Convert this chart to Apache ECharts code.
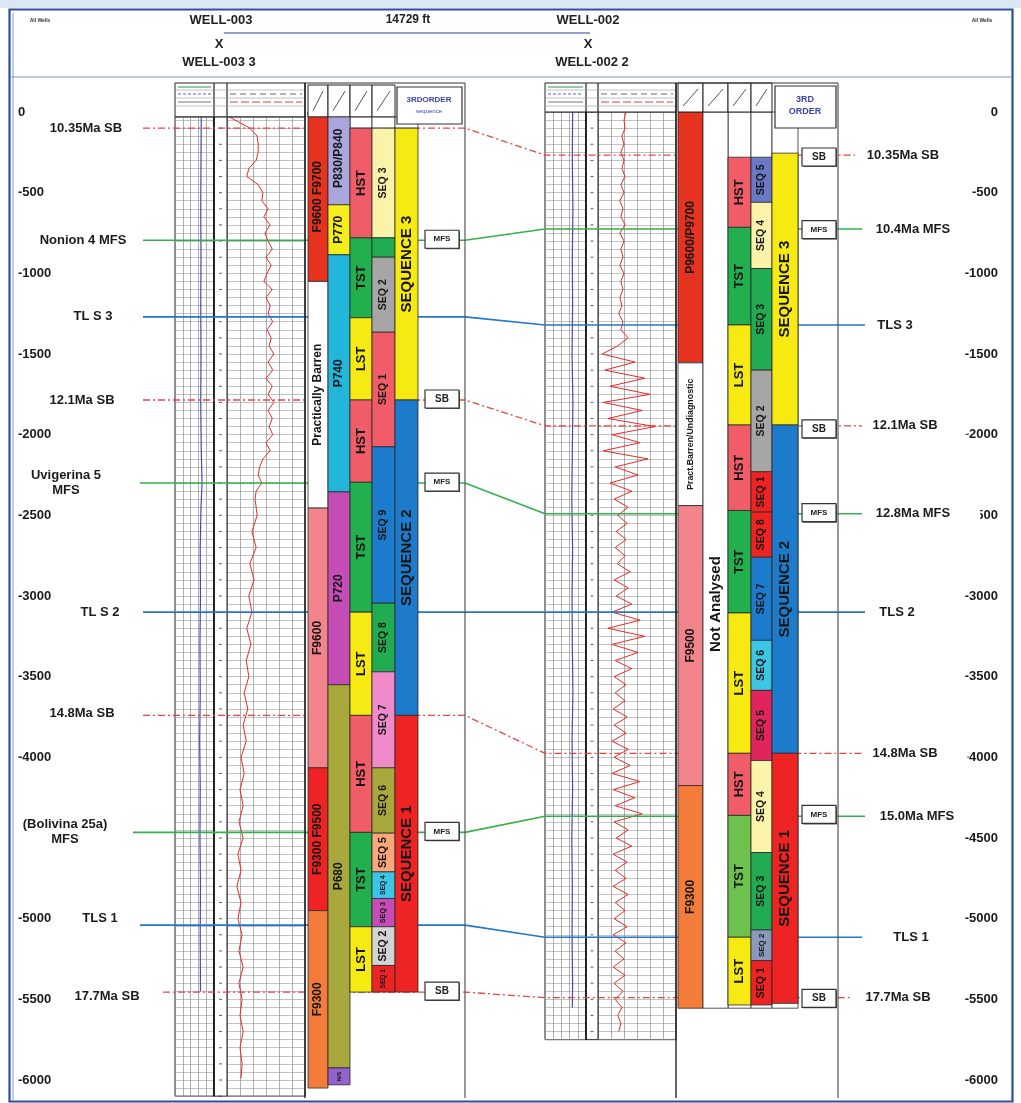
<!DOCTYPE html>
<html><head><meta charset="utf-8">
<script src="https://cdn.jsdelivr.net/npm/echarts@6/dist/echarts.min.js"></script>
<style>html,body{margin:0;padding:0;background:#fff}#c{width:1021px;height:1103px}</style>
</head><body><div id="c"></div>
<script>
// ================= DATA =================
const DEPTH_TICKS = [0,-500,-1000,-1500,-2000,-2500,-3000,-3500,-4000,-4500,-5000,-5500,-6000];

// WELL-003 (left) zonation: [top, base, label, kind]
const L_BIOZONE = [[0,-1050,'F9600 F9700','bioRed'],[-1050,-2455,'Practically Barren','white'],[-2455,-4065,'F9600','pink'],[-4065,-4950,'F9300 F9500','red'],[-4950,-6050,'F9300','orange']];
const L_PALY = [[0,-575,'P830/P840','lavender'],[-575,-885,'P770','yellow'],[-885,-2355,'P740','cyan'],[-2355,-3550,'P720','magenta'],[-3550,-5925,'P680','olive'],[-5925,-6030,'N/S','purple']];
const L_TRACT = [[-100,-780,'HST','hst'],[-780,-1275,'TST','tst'],[-1275,-1785,'LST','lst'],[-1785,-2295,'HST','hst'],[-2295,-3100,'TST','tst'],[-3100,-3740,'LST','lst'],[-3740,-4465,'HST','hst'],[-4465,-5050,'TST','tst'],[-5050,-5455,'LST','lst']];
const L_SEQ = [[-100,-780,'SEQ 3','cream'],[-780,-900,'','green'],[-900,-1365,'SEQ 2','gray'],[-1365,-2075,'SEQ 1','hst'],[-2075,-3045,'SEQ 9','blue'],[-3045,-3470,'SEQ 8','green'],[-3470,-4065,'SEQ 7','pinkLight'],[-4065,-4470,'SEQ 6','olive'],[-4470,-4710,'SEQ 5','peach'],[-4710,-4875,'SEQ 4','cyanLight'],[-4875,-5050,'SEQ 3','magenta'],[-5050,-5290,'SEQ 2','grayLight'],[-5290,-5455,'SEQ 1','red']];
const L_ORDER3 = [[-100,-1785,'SEQUENCE 3','lst'],[-1785,-3740,'SEQUENCE 2','blue'],[-3740,-5455,'SEQUENCE 1','red']];

// WELL-002 (right) zonation
const R_BIOZONE = [[0,-1555,'P9600/P9700','bioRed'],[-1555,-2440,'Pract.Barren/Undiagnostic','white'],[-2440,-4175,'F9500','pink'],[-4175,-5555,'F9300','orange']];
const R_PALY = [[0,-5555,'Not Analysed','white',-3050]];
const R_TRACT = [[-280,-715,'HST','hst'],[-715,-1320,'TST','tst'],[-1320,-1940,'LST','lst'],[-1940,-2470,'HST','hst'],[-2470,-3105,'TST','tst'],[-3105,-3975,'LST','lst'],[-3975,-4360,'HST','hst'],[-4360,-5115,'TST','tstLight'],[-5115,-5535,'LST','lst']];
const R_SEQ = [[-280,-560,'SEQ 5','slate'],[-560,-970,'SEQ 4','cream'],[-970,-1600,'SEQ 3','green'],[-1600,-2230,'SEQ 2','gray'],[-2230,-2480,'SEQ 1','red'],[-2480,-2760,'SEQ 8','red'],[-2760,-3275,'SEQ 7','blue'],[-3275,-3585,'SEQ 6','cyanLight'],[-3585,-4020,'SEQ 5','crimson'],[-4020,-4590,'SEQ 4','cream'],[-4590,-5070,'SEQ 3','green'],[-5070,-5260,'SEQ 2','grayBlue'],[-5260,-5535,'SEQ 1','red']];
const R_ORDER3 = [[-255,-1940,'SEQUENCE 3','lst'],[-1940,-3975,'SEQUENCE 2','blue'],[-3975,-5525,'SEQUENCE 1','red']];

// Correlation surfaces
const SURF_TYPE = ['SB','MFS','TLS','SB','MFS','TLS','SB','MFS','TLS','SB'];
const SURF_NAME_L = ['10.35Ma SB','Nonion 4 MFS','TL S 3','12.1Ma SB','Uvigerina 5\nMFS','TL S 2','14.8Ma SB','(Bolivina 25a)\nMFS','TLS 1','17.7Ma SB'];
const SURF_NAME_R = ['10.35Ma SB','10.4Ma MFS','TLS 3','12.1Ma SB','12.8Ma MFS','TLS 2','14.8Ma SB','15.0Ma MFS','TLS 1','17.7Ma SB'];
const SURF_DEPTH_L = [-100,-795,-1270,-1785,-2300,-3100,-3740,-4465,-5040,-5455];
const SURF_DEPTH_R = [-267,-725,-1320,-1945,-2490,-3100,-3975,-4365,-5115,-5490];

// Surface boxes [label, depth]
const BOX_L = [['MFS',-795],['SB',-1785],['MFS',-2300],['MFS',-4465],['SB',-5455]];
const BOX_R = [['SB',-285],['MFS',-735],['SB',-1970],['MFS',-2490],['MFS',-4360],['SB',-5500]];

// Logs: [depth, value]
const L_GR = [[-30,4],[-60,21],[-100,44],[-150,58],[-200,60],[-250,60],[-300,56],[-350,42],[-400,38],[-450,60],[-500,69],[-550,67],[-600,79],[-650,71],[-700,83],[-750,73],[-800,79],[-850,87],[-900,75],[-950,85],[-1000,77],[-1050,71],[-1100,87],[-1150,75],[-1200,83],[-1250,79],[-1300,88],[-1350,77],[-1400,85],[-1450,81],[-1500,90],[-1550,79],[-1600,88],[-1650,75],[-1700,87],[-1750,79],[-1800,90],[-1850,79],[-1900,87],[-1950,81],[-2000,88],[-2050,75],[-2100,83],[-2150,69],[-2200,63],[-2250,60],[-2300,67],[-2350,56],[-2400,54],[-2500,58],[-2600,48],[-2700,56],[-2800,44],[-2900,52],[-3000,42],[-3100,48],[-3200,38],[-3300,46],[-3400,37],[-3500,42],[-3600,33],[-3700,40],[-3800,31],[-3900,37],[-4000,27],[-4100,33],[-4200,25],[-4300,31],[-4400,23],[-4500,31],[-4600,21],[-4700,27],[-4800,19],[-4900,27],[-5000,21],[-5100,29],[-5200,23],[-5300,31],[-5400,23],[-5500,29],[-5600,25],[-5700,31],[-5800,25],[-5900,29],[-5990,27]];
const R_GR = [[0,54],[-50,50],[-100,52],[-150,46],[-200,50],[-250,44],[-300,50],[-350,46],[-400,52],[-450,44],[-500,50],[-550,42],[-600,48],[-650,44],[-700,52],[-750,42],[-800,50],[-850,44],[-900,48],[-950,42],[-1000,50],[-1050,44],[-1100,48],[-1150,42],[-1200,46],[-1250,40],[-1300,48],[-1350,44],[-1400,58],[-1450,38],[-1500,8],[-1550,71],[-1600,13],[-1650,90],[-1700,23],[-1750,100],[-1800,10],[-1850,85],[-1900,19],[-1950,110],[-2000,27],[-2050,81],[-2100,10],[-2150,96],[-2200,33],[-2250,77],[-2300,23],[-2350,65],[-2400,31],[-2450,58],[-2500,38],[-2550,56],[-2600,35],[-2650,54],[-2700,33],[-2750,52],[-2800,37],[-2850,62],[-2900,31],[-2950,58],[-3000,35],[-3050,65],[-3100,27],[-3150,81],[-3200,19],[-3250,90],[-3300,27],[-3350,77],[-3400,33],[-3450,65],[-3500,31],[-3550,54],[-3600,33],[-3650,52],[-3700,29],[-3750,56],[-3800,31],[-3850,54],[-3900,27],[-3950,58],[-4000,31],[-4050,62],[-4100,27],[-4150,81],[-4200,29],[-4250,71],[-4300,33],[-4350,85],[-4400,31],[-4450,58],[-4500,35],[-4550,65],[-4600,29],[-4650,56],[-4700,33],[-4750,54],[-4800,29],[-4850,58],[-4900,33],[-4950,52],[-5000,31],[-5050,56],[-5100,29],[-5150,54],[-5200,33],[-5250,50],[-5300,29],[-5350,52],[-5400,31],[-5450,48],[-5500,33],[-5550,46],[-5600,38],[-5650,44],[-5700,40]];
const L_CAL = [[-30,101],[-300,100],[-600,99],[-900,100],[-1200,99],[-1500,100],[-1800,99],[-2100,101],[-2300,104],[-2450,100],[-2700,97],[-3000,98],[-3300,96],[-3600,97],[-3900,95],[-4200,97],[-4500,96],[-4800,98],[-5100,97],[-5450,98]];
const R_CAL = [[0,101],[-300,100],[-600,102],[-900,100],[-1200,101],[-1500,99],[-1800,102],[-2100,100],[-2400,98],[-2700,101],[-3000,99],[-3300,100],[-3600,102],[-3900,99],[-4200,101],[-4500,98],[-4800,100],[-5100,99],[-5400,101],[-5550,100]];
const L_LOG_RANGE = [-30,-6100];
const R_LOG_RANGE = [0,-5750];

// ================= LAYOUT / STYLE =================
const W = 1021, H = 1103, Y0 = 112, PX_PER_FT = 968/6000;
const yPx = d => Y0 - d*PX_PER_FT;
const Y_MAX = Y0/PX_PER_FT, Y_MIN = -(H-Y0)/PX_PER_FT;
const FONT = '"Liberation Sans", Arial, sans-serif';
const PALETTE = {bioRed:'#e6331f',white:'#ffffff',pink:'#f2848c',red:'#ee2424',orange:'#f47c3a',lavender:'#aaa6dc',yellow:'#f6ee1c',cyan:'#22b6da',magenta:'#c64cb6',olive:'#a9a83c',purple:'#9462cc',hst:'#f05d68',tst:'#22b04e',tstLight:'#6dc24e',lst:'#f7ea12',cream:'#fbf3aa',green:'#22ac52',gray:'#a6a6a6',blue:'#1c7bca',pinkLight:'#f18acb',peach:'#f8a67a',cyanLight:'#3cc6e6',grayLight:'#d4d4d4',slate:'#6a78c6',crimson:'#e0245e',grayBlue:'#8a9abc'};
const L = {t1:[175,214], dt:[214,227], t2:[227,305], bio:[308,328], paly:[328,350], tract:[350,372], seq:[372,395], ord:[395,418], box:442, right:465, hdrDepth:-30};
const R = {t1:[545,586], dt:[586,598], t2:[598,676], bio:[678,703], paly:[703,728], tract:[728,751], seq:[751,772], ord:[772,798], box:819, right:838, hdrDepth:0};
const COL_FONT = {bio:12, paly:12, tract:13, seq:10.5, ord:15};
const R_PALY_FONT = 15;
const LINE_START_L = [143,143,143,143,140,143,143,133,140,163];
const LINE_END_R = [855,862,865,862,862,865,862,865,862,850];
const LABEL_X_L = [86,83,93,82,66,100,82,65,100,107];
const LABEL_DY_L = [0,0,0,0,0,0,-2,0,-7,4];
const LABEL_X_R = [903,913,895,905,913,897,905,917,911,898];
const SURF_STYLE = {SB:{color:'#e8463c',width:1.3,type:[7,3,2,3]}, MFS:{color:'#36b04a',width:1.6,type:'solid'}, TLS:{color:'#2478c8',width:1.6,type:'solid'}};

// ================= BUILD ITEMS =================
const ITEMS = [];
function addCol(arr, cols, key, fontOverride){
  arr.forEach(r => ITEMS.push({x0:cols[key][0], x1:cols[key][1], top:r[0], base:r[1], label:r[2], kind:r[3], labelDepth:r[4], font: fontOverride || COL_FONT[key]}));
}
['tract','seq','ord'].forEach((k,i)=>{ const first=[L_TRACT,L_SEQ,L_ORDER3][i][0][0]; ITEMS.push({x0:L[k][0],x1:L[k][1],top:L.hdrDepth,base:first,label:'',kind:'white',font:9}); });
const rBottom = R_BIOZONE[R_BIOZONE.length-1][1];
['tract','seq','ord'].forEach(k=> ITEMS.push({x0:R[k][0],x1:R[k][1],top:R.hdrDepth,base:rBottom,label:'',kind:'white',font:9}));
addCol(L_BIOZONE,L,'bio'); addCol(L_PALY,L,'paly'); addCol(L_TRACT,L,'tract'); addCol(L_SEQ,L,'seq'); addCol(L_ORDER3,L,'ord');
addCol(R_BIOZONE,R,'bio'); addCol(R_PALY,R,'paly',R_PALY_FONT); addCol(R_TRACT,R,'tract'); addCol(R_SEQ,R,'seq'); addCol(R_ORDER3,R,'ord');

const LABELS = [];
SURF_NAME_L.forEach((t,i)=>LABELS.push({text:t, x:LABEL_X_L[i], d:SURF_DEPTH_L[i], dy:LABEL_DY_L[i], pad:[1,3,1,8]}));
SURF_NAME_R.forEach((t,i)=>LABELS.push({text:t, x:LABEL_X_R[i], d:SURF_DEPTH_R[i], dy:0, pad:[1,30,1,2]}));
const BOXES = BOX_L.map(b=>({text:b[0], x:L.box, d:b[1]})).concat(BOX_R.map(b=>({text:b[0], x:R.box, d:b[1]})));

function renderInterval(params, api){
  const it = ITEMS[params.dataIndex];
  const p0 = api.coord([it.x0, it.top]);
  const p1 = api.coord([it.x1, it.base]);
  const h = p1[1]-p0[1], w = p1[0]-p0[0];
  const children = [{type:'rect', shape:{x:p0[0], y:p0[1], width:w, height:h}, style:{fill:PALETTE[it.kind], stroke:'#2a2a2a', lineWidth:0.8}}];
  if (it.label){
    const lc = it.labelDepth != null ? api.coord([it.x0, it.labelDepth])[1] : (p0[1]+p1[1])/2;
    const fs = Math.min(it.font, Math.max(5, (h-6)/(it.label.length*0.62)));
    children.push({type:'text', x:(p0[0]+p1[0])/2, y:lc, rotation:Math.PI/2,
      style:{text:it.label, x:0, y:0, align:'center', verticalAlign:'middle', fill:'#151515', fontSize:fs, fontWeight:'bold', fontFamily:FONT}});
  }
  return {type:'group', children};
}
function renderLabel(params, api){
  const it = LABELS[params.dataIndex];
  const p = api.coord([it.x, it.d]);
  return {type:'text', x:p[0] + (it.pad[1]-it.pad[3])/2, y:p[1]+it.dy, style:{text:it.text, align:'center', verticalAlign:'middle', fill:'#1b1b1b', fontSize:13, fontWeight:'bold', fontFamily:FONT, lineHeight:15, backgroundColor:'#fff', padding:it.pad}};
}
function renderBox(params, api){
  const it = BOXES[params.dataIndex];
  const p = api.coord([it.x, it.d]);
  return {type:'group', children:[
    {type:'rect', shape:{x:p[0]-16, y:p[1]-9, width:34, height:18}, style:{fill:'#555'}},
    {type:'rect', shape:{x:p[0]-17, y:p[1]-10, width:34, height:18}, style:{fill:'#fff', stroke:'#333', lineWidth:1.2}},
    {type:'text', x:p[0], y:p[1]-1, style:{text:it.text, align:'center', verticalAlign:'middle', fill:'#222', fontSize:it.text==='SB'?10:8, fontWeight:'bold', fontFamily:FONT}}
  ]};
}
const DEPTH_TRACKS = [{x0:L.dt[0],x1:L.dt[1],top:L_LOG_RANGE[0],base:L_LOG_RANGE[1]},{x0:R.dt[0],x1:R.dt[1],top:R_LOG_RANGE[0],base:R_LOG_RANGE[1]}];
function renderDepthTrack(params, api){
  const it = DEPTH_TRACKS[params.dataIndex];
  const p0 = api.coord([it.x0, it.top]), p1 = api.coord([it.x1, it.base]);
  const ch = [{type:'rect', shape:{x:p0[0], y:p0[1], width:p1[0]-p0[0], height:p1[1]-p0[1]}, style:{fill:'#fff', stroke:'#222', lineWidth:1}},
              {type:'line', shape:{x1:p0[0], y1:p0[1], x2:p0[0], y2:p1[1]}, style:{stroke:'#111', lineWidth:1.6}}];
  const cx = (p0[0]+p1[0])/2;
  for (let d = Math.ceil(it.top/100)*100; d >= it.base; d -= 100){
    const y = api.coord([it.x0, d])[1];
    ch.push({type:'line', shape:{x1:cx-1.5, y1:y, x2:cx+1.5, y2:y}, style:{stroke:'#333', lineWidth:0.8}});
  }
  return {type:'group', children:ch};
}

// log grids
const LOG_GRIDS = [
  {x:L.t1, r:L_LOG_RANGE, div:30},{x:L.t2, r:L_LOG_RANGE, div:25},
  {x:R.t1, r:R_LOG_RANGE, div:30},{x:R.t2, r:R_LOG_RANGE, div:25}];
const grids = [{left:0, right:0, top:0, bottom:0}];
const xAxes = [{type:'value', gridIndex:0, min:0, max:W, show:false}];
const axisLabelStyle = {inside:true, customValues:DEPTH_TICKS, formatter:v=>String(v), color:'#1a1a1a', fontSize:13, fontWeight:'bold', fontFamily:FONT};
const yAxes = [
  {type:'value', gridIndex:0, min:Y_MIN, max:Y_MAX, position:'left', axisLine:{show:false}, axisTick:{show:false}, splitLine:{show:false}, axisLabel:Object.assign({margin:18}, axisLabelStyle)},
  {type:'value', gridIndex:0, min:Y_MIN, max:Y_MAX, position:'right', axisLine:{show:false}, axisTick:{show:false}, splitLine:{show:false}, axisLabel:Object.assign({margin:23}, axisLabelStyle)}];
LOG_GRIDS.forEach((g,i)=>{
  const top = yPx(g.r[0]), bot = yPx(g.r[1]);
  grids.push({left:g.x[0], width:g.x[1]-g.x[0], top:top, height:bot-top, show:true, borderColor:'#222', borderWidth:1, backgroundColor:'#fff'});
  xAxes.push({type:'value', gridIndex:i+1, min:0, max:150, interval:g.div, axisLine:{show:false}, axisTick:{show:false}, axisLabel:{show:false}, splitLine:{show:true, lineStyle:{color:'#8c8c8c', width:0.7}}});
  yAxes.push({type:'value', gridIndex:i+1, min:g.r[1], max:g.r[0], interval:50, axisLine:{show:false}, axisTick:{show:false}, axisLabel:{show:false}, splitLine:{show:true, lineStyle:{color:'#9a9a9a', width:0.6}}});
});

const series = [];
const logSeries = (data, gi, color, width) => series.push({type:'line', xAxisIndex:gi, yAxisIndex:gi+1, data:data.map(p=>[p[1],p[0]]), showSymbol:false, symbol:'none', lineStyle:{color, width}, z:3, silent:true});
logSeries(L_CAL,1,'#4848b8',1.2); logSeries(L_GR,2,'#e52a2a',1); logSeries(R_CAL,3,'#4848b8',1.2); logSeries(R_GR,4,'#e52a2a',1);

series.push({type:'custom', xAxisIndex:0, yAxisIndex:0, renderItem:renderDepthTrack, data:DEPTH_TRACKS.map(t=>[t.x0,t.top,t.x1,t.base]), encode:{x:[0,2],y:[1,3]}, z:2, silent:true});

SURF_TYPE.forEach((t,i)=>{
  const s = SURF_STYLE[t];
  series.push({type:'line', xAxisIndex:0, yAxisIndex:0, z:4, silent:true, showSymbol:false, symbol:'none',
    data:[[LINE_START_L[i],SURF_DEPTH_L[i]],[L.right,SURF_DEPTH_L[i]],[R.t1[0],SURF_DEPTH_R[i]],[LINE_END_R[i],SURF_DEPTH_R[i]]],
    lineStyle:{color:s.color, width:s.width, type:s.type}});
});
series.push({type:'custom', xAxisIndex:0, yAxisIndex:0, renderItem:renderInterval, data:ITEMS.map(it=>[it.x0,it.top,it.x1,it.base]), encode:{x:[0,2],y:[1,3]}, z:6, silent:true});
series.push({type:'custom', xAxisIndex:0, yAxisIndex:0, renderItem:renderBox, data:BOXES.map(b=>[b.x,b.d]), encode:{x:0,y:1}, z:7, silent:true});
series.push({type:'custom', xAxisIndex:0, yAxisIndex:0, renderItem:renderLabel, data:LABELS.map(b=>[b.x,b.d]), encode:{x:0,y:1}, z:7, silent:true});

// ================= DECORATION (frame, headers) =================
const G = [];
const gl = (x1,y1,x2,y2,stroke,w,dash)=>G.push({type:'line', silent:true, z:100, shape:{x1,y1,x2,y2}, style:{stroke, lineWidth:w, lineDash:dash||null}});
const gr = (x,y,w,h,style)=>G.push({type:'rect', silent:true, z:99, shape:{x,y,width:w,height:h}, style});
const gt = (x,y,t,size,fill,weight)=>G.push({type:'text', silent:true, z:100, x, y, style:{text:t, fontSize:size, fontWeight:weight||'bold', fontFamily:FONT, fill, align:'center', verticalAlign:'middle'}});
gr(0,0,W,8,{fill:'#dce7f4'});
gr(9.5,9.5,1003,1092,{fill:null, stroke:'#2c4f9c', lineWidth:2.2});
gl(13,13,13,1100,'#a9bfe0',1.5);
gl(10,77,1012,77,'#7f8fbf',1);
gt(40,21,'All Wells',5,'#333');
gt(982,21,'All Wells',5,'#333');
gt(221,20,'WELL-003',13,'#222'); gt(408,20,'14729 ft',12,'#222'); gt(588,20,'WELL-002',13,'#222');
gl(224,33,590,33,'#6f80b6',1.3);
gt(219,44,'X',13,'#222'); gt(588,44,'X',13,'#222');
gt(219,62,'WELL-003 3',13,'#222'); gt(592,62,'WELL-002 2',13,'#222');
function logHeader(c, y0, y1){
  gr(c.t1[0],y0,c.t2[1]-c.t1[0],y1-y0,{fill:'#fff', stroke:'#222', lineWidth:1});
  gl(c.dt[0],y0,c.dt[0],y1,'#222',1.2); gl(c.dt[1],y0,c.dt[1],y1,'#222',1.2);
  gl(c.t1[0],y0+7,c.t2[1],y0+7,'#999',0.6); gl(c.t1[0],y0+15,c.t2[1],y0+15,'#999',0.6); gl(c.t1[0],y0+23,c.t2[1],y0+23,'#999',0.6);
  gl(c.t1[0]+3,y0+4,c.t1[1]-3,y0+4,'#2f9a45',1.2);
  gl(c.t1[0]+3,y0+11,c.t1[1]-3,y0+11,'#6060c0',1,[3,2]);
  gl(c.t1[0]+3,y0+19,c.t1[1]-3,y0+19,'#777',1);
  gl(c.t2[0]+3,y0+11,c.t2[1]-3,y0+11,'#666',1,[6,4]);
  gl(c.t2[0]+3,y0+19,c.t2[1]-3,y0+19,'#e04040',1,[8,3]);
}
logHeader(L,83,yPx(L.hdrDepth)); logHeader(R,83,yPx(R.hdrDepth));
function colHeader(c, y0, y1){
  ['bio','paly','tract','seq'].forEach(k=>{
    gr(c[k][0],y0,c[k][1]-c[k][0],y1-y0,{fill:'#fff', stroke:'#222', lineWidth:1});
    gl(c[k][0]+5,y1-6,c[k][1]-5,y0+6,'#555',1);
  });
}
colHeader(L,85,yPx(L.hdrDepth)); colHeader(R,83,yPx(R.hdrDepth));
gl(305,83,465,83,'#333',1); gl(676,83,838,83,'#333',1);
gl(305,83,305,1098,'#111',1.3); gl(L.right,83,L.right,1098,'#555',1.2);
gl(R.t2[1],83,R.t2[1],1098,'#111',1.3); gl(R.right,83,R.right,1098,'#555',1.2);
gr(397,87,65,37,{fill:'#fff', stroke:'#333', lineWidth:1.2});
gt(429,100,'3RDORDER',8,'#3a45a8'); gt(429,111,'sequence',6,'#3a45a8','normal');
gr(775,86,61,42,{fill:'#fff', stroke:'#333', lineWidth:1.2});
gt(805,100,'3RD',9,'#3a45a8'); gt(805,112,'ORDER',9,'#3a45a8');

const chart = echarts.init(document.getElementById('c'));
chart.setOption({animation:false, backgroundColor:'#fff', grid:grids, xAxis:xAxes, yAxis:yAxes, series, graphic:{elements:G}});
</script>
</body></html>
